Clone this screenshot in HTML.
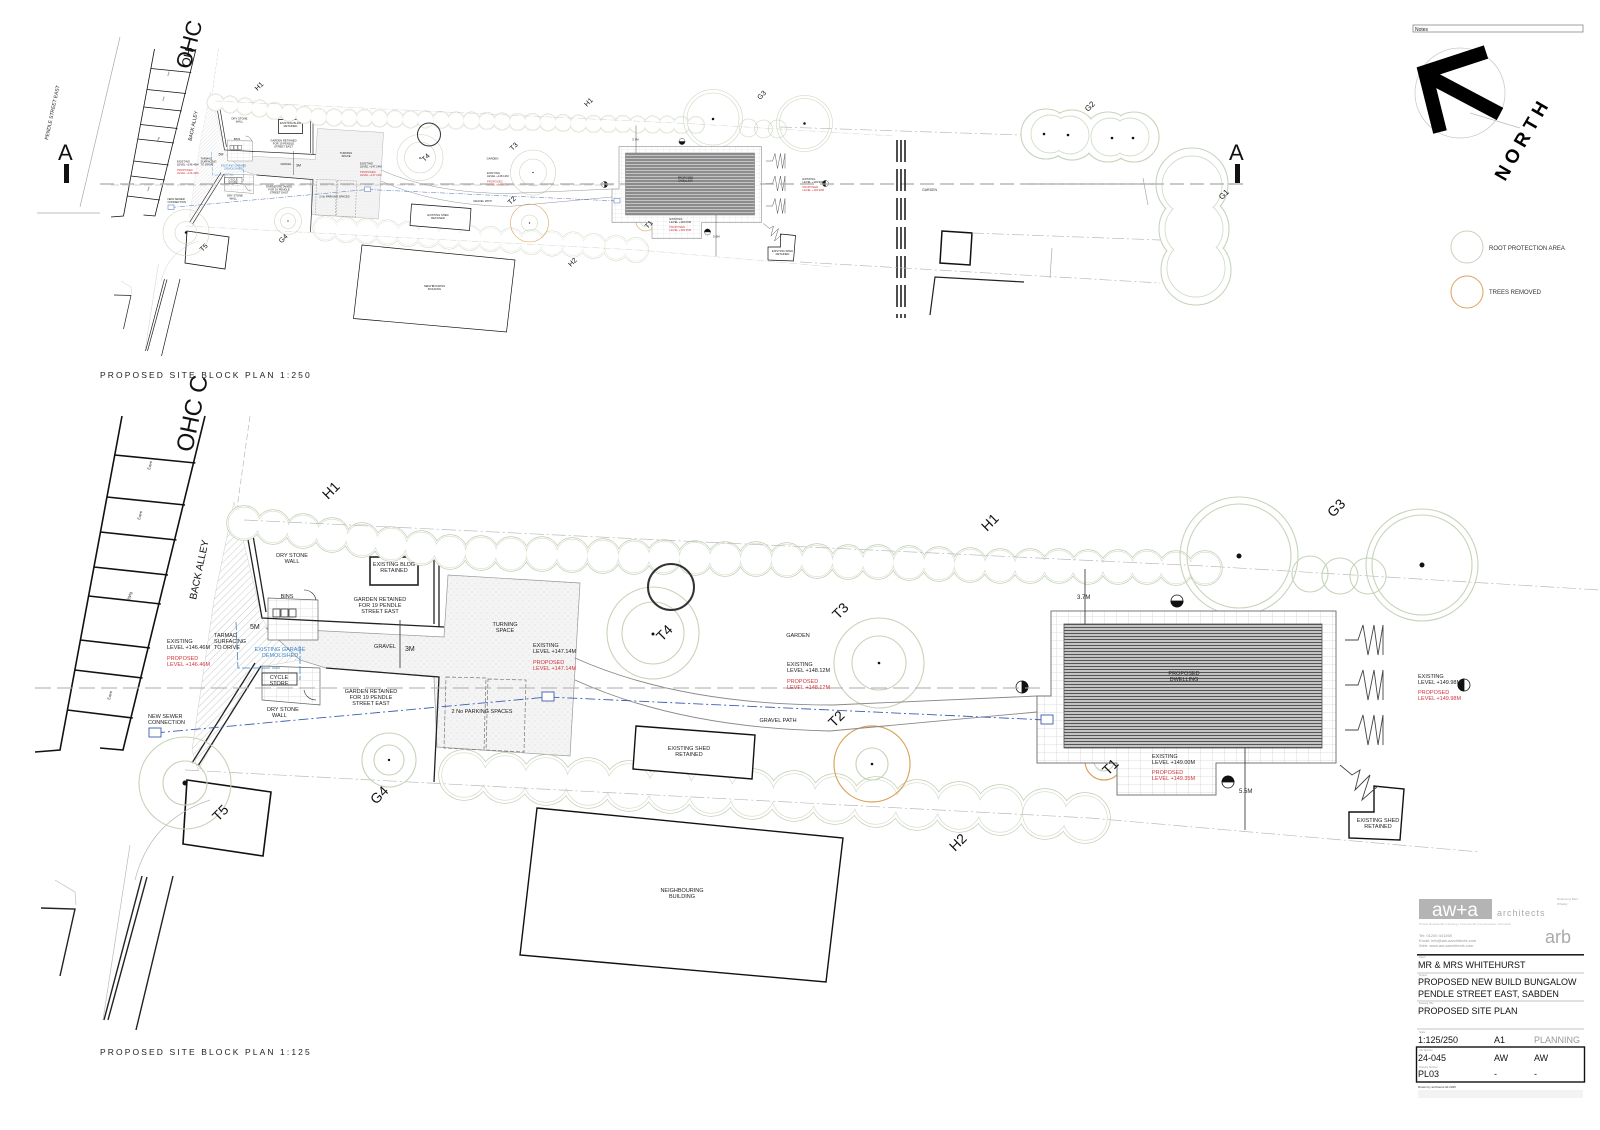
<!DOCTYPE html>
<html><head><meta charset="utf-8"><style>
html,body{margin:0;padding:0;background:#fff;}
svg{display:block;font-family:"Liberation Sans",sans-serif;}
</style></head><body>
<svg width="1600" height="1130" viewBox="0 0 1600 1130" xmlns="http://www.w3.org/2000/svg">
<defs>
<pattern id="roof" width="4" height="3" patternUnits="userSpaceOnUse"><rect width="4" height="3" fill="#c4c4c4"/><rect width="4" height="1" fill="#555"/></pattern>
<pattern id="pave" width="12" height="8" patternUnits="userSpaceOnUse"><rect width="12" height="8" fill="#fff"/><path d="M0 0H12M0 0V8" stroke="#d2d2d2" stroke-width="0.8"/></pattern>
<pattern id="hatch" width="5" height="5" patternUnits="userSpaceOnUse" patternTransform="rotate(45)"><rect width="5" height="5" fill="#fff"/><path d="M0 0V5" stroke="#bcbcbc" stroke-width="0.8"/></pattern>
<pattern id="stip" width="6" height="6" patternUnits="userSpaceOnUse"><rect width="6" height="6" fill="#f4f4f4"/><circle cx="1" cy="1" r="0.5" fill="#cfcfcf"/><circle cx="4" cy="4" r="0.5" fill="#d8d8d8"/></pattern>

<g id="h1a">
<circle cx="244" cy="523" r="17"/><circle cx="273" cy="527" r="17"/><circle cx="303" cy="531" r="17"/><circle cx="332" cy="535" r="17"/><circle cx="362" cy="540" r="17"/><circle cx="391" cy="544" r="17"/><circle cx="421" cy="548" r="17"/>
<circle cx="450" cy="552" r="17"/><circle cx="481" cy="553" r="17"/><circle cx="511" cy="554" r="17"/><circle cx="542" cy="554" r="17"/><circle cx="572" cy="555" r="17"/><circle cx="603" cy="556" r="17"/><circle cx="634" cy="557" r="17"/><circle cx="664" cy="557" r="17"/><circle cx="695" cy="558" r="17"/><circle cx="725" cy="559" r="17"/><circle cx="756" cy="559" r="17"/><circle cx="787" cy="560" r="17"/><circle cx="817" cy="561" r="17"/><circle cx="848" cy="562" r="17"/><circle cx="878" cy="562" r="17"/><circle cx="909" cy="563" r="17"/><circle cx="939" cy="564" r="17"/><circle cx="970" cy="565" r="17"/><circle cx="1000" cy="566" r="17"/><circle cx="1030" cy="566" r="17"/><circle cx="1059" cy="566" r="17"/><circle cx="1088" cy="567" r="17"/><circle cx="1118" cy="567" r="17"/><circle cx="1147" cy="567" r="17"/><circle cx="1176" cy="568" r="17"/><circle cx="1205" cy="568" r="17"/>
</g>
<g id="h1b">
<circle cx="244" cy="523" r="15.5"/><circle cx="273" cy="527" r="15.5"/><circle cx="303" cy="531" r="15.5"/><circle cx="332" cy="535" r="15.5"/><circle cx="362" cy="540" r="15.5"/><circle cx="391" cy="544" r="15.5"/><circle cx="421" cy="548" r="15.5"/>
<circle cx="450" cy="552" r="15.5"/><circle cx="481" cy="553" r="15.5"/><circle cx="511" cy="554" r="15.5"/><circle cx="542" cy="554" r="15.5"/><circle cx="572" cy="555" r="15.5"/><circle cx="603" cy="556" r="15.5"/><circle cx="634" cy="557" r="15.5"/><circle cx="664" cy="557" r="15.5"/><circle cx="695" cy="558" r="15.5"/><circle cx="725" cy="559" r="15.5"/><circle cx="756" cy="559" r="15.5"/><circle cx="787" cy="560" r="15.5"/><circle cx="817" cy="561" r="15.5"/><circle cx="848" cy="562" r="15.5"/><circle cx="878" cy="562" r="15.5"/><circle cx="909" cy="563" r="15.5"/><circle cx="939" cy="564" r="15.5"/><circle cx="970" cy="565" r="15.5"/><circle cx="1000" cy="566" r="15.5"/><circle cx="1030" cy="566" r="15.5"/><circle cx="1059" cy="566" r="15.5"/><circle cx="1088" cy="567" r="15.5"/><circle cx="1118" cy="567" r="15.5"/><circle cx="1147" cy="567" r="15.5"/><circle cx="1176" cy="568" r="15.5"/><circle cx="1205" cy="568" r="15.5"/>
</g>
<g id="h2a">
<circle cx="464" cy="775" r="25"/><circle cx="505" cy="778" r="25"/><circle cx="546" cy="780" r="25"/><circle cx="588" cy="783" r="25"/><circle cx="629" cy="786" r="25"/><circle cx="670" cy="788" r="25"/><circle cx="711" cy="791" r="25"/><circle cx="752" cy="794" r="25"/><circle cx="794" cy="796" r="25"/><circle cx="835" cy="799" r="25"/><circle cx="876" cy="802" r="25"/><circle cx="917" cy="805" r="25"/><circle cx="959" cy="807" r="25"/><circle cx="1000" cy="810" r="25"/><circle cx="1045" cy="814" r="25"/><circle cx="1085" cy="818" r="25"/>
</g>
<g id="h2b">
<circle cx="464" cy="775" r="22"/><circle cx="505" cy="778" r="22"/><circle cx="546" cy="780" r="22"/><circle cx="588" cy="783" r="22"/><circle cx="629" cy="786" r="22"/><circle cx="670" cy="788" r="22"/><circle cx="711" cy="791" r="22"/><circle cx="752" cy="794" r="22"/><circle cx="794" cy="796" r="22"/><circle cx="835" cy="799" r="22"/><circle cx="876" cy="802" r="22"/><circle cx="917" cy="805" r="22"/><circle cx="959" cy="807" r="22"/><circle cx="1000" cy="810" r="22"/><circle cx="1045" cy="814" r="22"/><circle cx="1085" cy="818" r="22"/>
</g>

<g id="plan">
 <g stroke="#111" stroke-width="1.6" fill="none">
  <path d="M122 416L60 750L35 752"/>
  <path d="M205 416L123 750L100 748"/>
  <path d="M114.8 455L195.4 463M107 497L185 505M100.5 532L176.5 540M94 567L168 575M88.6 596L160.8 604M80.4 640L150 648M74.8 670L142.6 678M67.4 710L132.8 718"/>
 </g>
 <g fill="#333" font-size="4">
  <text x="150" y="470" transform="rotate(-75 150 470)">Eave</text><text x="140" y="520" transform="rotate(-75 140 520)">Eave</text>
  <text x="130" y="600" transform="rotate(-75 130 600)">Bldg</text><text x="110" y="700" transform="rotate(-75 110 700)">Eave</text>
 </g>
 <line x1="250" y1="416" x2="200" y2="770" stroke="#bbb" stroke-width="0.7" stroke-dasharray="6 3"/>
 <text x="192" y="453" font-size="24" transform="rotate(-78 192 453)" fill="#111">OHC C</text>
 <text x="196" y="600" font-size="10" transform="rotate(-78 196 600)" fill="#111">BACK ALLEY</text>

 <path d="M234 502L262 618L268 628L300 660L256 668L198 770L192 750L214 600Z" fill="url(#hatch)" stroke="#ccc" stroke-width="0.5"/>
 <path d="M266 628L444 637L448 575L580 583L570 756L437 747L434 677L326 668L300 660Z" fill="url(#stip)" stroke="#999" stroke-width="0.7"/>
 <path d="M268 598L318 600L318 640L268 640Z" fill="url(#pave)" stroke="#666" stroke-width="0.7"/>
 <path d="M262 666L320 668L320 705L262 700Z" fill="url(#pave)" stroke="#666" stroke-width="0.7"/>
 <g fill="none" stroke="#777" stroke-width="0.7" stroke-dasharray="4 2">
  <path d="M446 677L486 678L484 750L444 748Z"/><path d="M488 679L526 680L524 752L486 750Z"/>
 </g>
 <g stroke="#222" stroke-width="1.3" fill="none">
  <path d="M242 506L262 618L444 627"/><path d="M248 506L266 612"/>
  <path d="M368 551L439 552L439 627"/><path d="M434 556L434 624"/>
  <rect x="370" y="557" width="48" height="28" stroke-width="1.6"/>
  <path d="M326 668L439 677L434 782"/>
  <path d="M255 663L192 763M261 666L198 766"/>
  <rect x="273" y="609" width="7" height="8" stroke-width="0.7"/><rect x="281" y="609" width="7" height="8" stroke-width="0.7"/><rect x="289" y="609" width="7" height="8" stroke-width="0.7"/>
  <rect x="262" y="673" width="35" height="12" stroke-width="0.8"/>
  <path d="M304 590A12 12 0 0 1 316 600M304 690A12 12 0 0 0 316 700" stroke-width="0.6"/>
 </g>
 <path d="M236 622L238 668L282 668M300 646L300 680" stroke="#3a86c8" stroke-width="0.8" fill="none" stroke-dasharray="8 2"/>
 <path d="M187 780L271 792L263 856L183 844Z" fill="#fff" stroke="#111" stroke-width="1.6"/>
 <g stroke="#222" stroke-width="1.4" fill="none">
  <path d="M41 908L75 909L60 976"/><path d="M142 876L104 1020M147 877L108 1020M173 876L136 1030"/>
 </g>
 <path d="M130 845L103 1020M55 880L75 892L76 905" stroke="#bbb" stroke-width="0.7" fill="none"/>
 <path d="M135 880Q150 820 210 800" stroke="#bbb" stroke-width="0.7" fill="none"/>

 <!-- hedges -->
 <use href="#h1a" fill="none" stroke="#bfcfb2" stroke-width="1.4"/>
 <use href="#h1a" fill="#fff" stroke="none"/>
 <use href="#h1b" fill="none" stroke="#d3ddc9" stroke-width="1.2"/>
 <use href="#h1b" fill="#fff" stroke="none"/>
 <use href="#h2a" fill="none" stroke="#bfcfb2" stroke-width="1.4"/>
 <use href="#h2a" fill="#fff" stroke="none"/>
 <use href="#h2b" fill="none" stroke="#d3ddc9" stroke-width="1.2"/>
 <use href="#h2b" fill="#fff" stroke="none"/>
 <g fill="none" stroke="#bbb" stroke-width="0.7" stroke-dasharray="14 3 2 3">
  <path d="M244 520L1205 566L1600 590"/><path d="M185 770L560 790L1090 818L1480 852"/>
 </g>
 <g fill="none" stroke="#c6d4ba" stroke-width="1.1">
  <circle cx="1239" cy="556" r="59"/><circle cx="1239" cy="556" r="52"/>
  <circle cx="1422" cy="565" r="56"/><circle cx="1422" cy="565" r="50"/>
  <circle cx="1310" cy="574" r="18"/><circle cx="1340" cy="576" r="18"/><circle cx="1368" cy="576" r="18"/>
  <circle cx="653" cy="633" r="46"/><circle cx="653" cy="633" r="31"/>
  <circle cx="879" cy="663" r="45"/><circle cx="879" cy="663" r="27"/>
  <circle cx="872" cy="764" r="16"/><circle cx="1104" cy="761" r="10"/>
  <circle cx="389" cy="760" r="27"/><circle cx="389" cy="760" r="15"/>
  <circle cx="185" cy="783" r="46"/><circle cx="185" cy="783" r="22"/>
 </g>
 <circle cx="872" cy="764" r="38" fill="none" stroke="#d9a35a" stroke-width="1.2"/>
 <circle cx="1104" cy="761" r="19" fill="none" stroke="#d9a35a" stroke-width="1.2"/>
 <circle cx="671" cy="587" r="23" fill="none" stroke="#333" stroke-width="2"/>
 <g fill="#111"><circle cx="1239" cy="556" r="2.5"/><circle cx="1422" cy="565" r="2.5"/><circle cx="653" cy="634" r="1.5"/><circle cx="879" cy="663" r="1.3"/><circle cx="872" cy="764" r="1.3"/><circle cx="1104" cy="761" r="1.3"/><circle cx="389" cy="760" r="1.2"/><circle cx="185" cy="783" r="2.5"/></g>

 <path d="M636 726L755 735L752 779L633 769Z" fill="#fff" stroke="#111" stroke-width="1.4"/>
 <path d="M537 808L843 838L826 982L520 955Z" fill="#fff" stroke="#111" stroke-width="1.4"/>
 <path d="M1349 812L1374 812L1374 786L1404 789L1400 840L1349 838Z" fill="#fff" stroke="#111" stroke-width="1.4"/>
 <path d="M575 658Q680 705 833 705L1037 696" fill="none" stroke="#888" stroke-width="0.9"/>
 <path d="M575 680Q680 728 830 731L1037 712" fill="none" stroke="#888" stroke-width="0.9"/>
 <path d="M1051 611L1336 611L1336 763L1216 763L1216 795L1117 795L1117 763L1037 763L1037 696L1051 696Z" fill="url(#pave)" stroke="#777" stroke-width="1"/>
 <rect x="1064" y="624" width="258" height="124" fill="url(#roof)" stroke="#555" stroke-width="0.8"/>
 <path d="M155 733L548 697L1047 720" fill="none" stroke="#3b5fb0" stroke-width="0.9" stroke-dasharray="10 3 2 3"/>
 <g fill="#fff" stroke="#3b5fb0" stroke-width="0.9"><rect x="149" y="728" width="12" height="9"/><rect x="542" y="692" width="12" height="9"/><rect x="1041" y="715" width="12" height="9"/></g>
 <g fill="none" stroke="#444" stroke-width="0.9">
  <path d="M1345 640L1358 640L1363 625L1368 655L1374 625L1378 655L1383 625L1383 655"/>
  <path d="M1345 685L1358 685L1363 670L1368 700L1374 670L1378 700L1383 670L1383 700"/>
  <path d="M1345 730L1358 730L1363 715L1368 745L1374 715L1378 745L1383 715L1383 745"/>
  <path d="M1340 765L1352 775L1360 770L1355 790L1370 775L1362 800L1378 786"/>
  <path d="M1085 569V624M1245 748V830M400 620V668"/>
 </g>
 <g stroke="#111" stroke-width="0.8">
  <circle cx="1177" cy="601" r="6" fill="#fff"/><path d="M1171 601A6 6 0 0 0 1183 601Z" fill="#111"/>
  <circle cx="1022" cy="687" r="6" fill="#fff"/><path d="M1022 681A6 6 0 0 1 1022 693Z" fill="#111"/>
  <circle cx="1464" cy="685" r="6" fill="#fff"/><path d="M1464 679A6 6 0 0 0 1464 691Z" fill="#111"/>
  <circle cx="1228" cy="782" r="6" fill="#fff"/><path d="M1222 782A6 6 0 0 1 1234 782Z" fill="#111"/>
 </g>
 <line x1="35" y1="688" x2="1040" y2="688" stroke="#aaa" stroke-width="1" stroke-dasharray="16 6"/>

 <g font-size="14" fill="#111">
  <text x="328" y="500" transform="rotate(-45 328 500)">H1</text>
  <text x="987" y="532" transform="rotate(-45 987 532)">H1</text>
  <text x="1333" y="518" transform="rotate(-45 1333 518)">G3</text>
  <text x="662" y="642" transform="rotate(-45 662 642)">T4</text>
  <text x="838" y="620" transform="rotate(-45 838 620)">T3</text>
  <text x="834" y="728" transform="rotate(-45 834 728)">T2</text>
  <text x="1108" y="776" transform="rotate(-45 1108 776)">T1</text>
  <text x="376" y="805" transform="rotate(-45 376 805)">G4</text>
  <text x="218" y="822" transform="rotate(-45 218 822)">T5</text>
  <text x="955" y="852" transform="rotate(-45 955 852)">H2</text>
 </g>
 <g font-size="5.5" fill="#222" text-anchor="middle">
  <text x="292" y="557">DRY STONE</text><text x="292" y="563">WALL</text>
  <text x="394" y="566">EXISTING BLDG</text><text x="394" y="572">RETAINED</text>
  <text x="287" y="598">BINS</text>
  <text x="380" y="601">GARDEN RETAINED</text><text x="380" y="607">FOR 19 PENDLE</text><text x="380" y="613">STREET EAST</text>
  <text x="385" y="648">GRAVEL</text><text x="505" y="626">TURNING</text><text x="505" y="632">SPACE</text>
  <text x="279" y="679">CYCLE</text><text x="279" y="685">STORE</text>
  <text x="371" y="693">GARDEN RETAINED</text><text x="371" y="699">FOR 19 PENDLE</text><text x="371" y="705">STREET EAST</text>
  <text x="482" y="713">2 No PARKING SPACES</text>
  <text x="798" y="637">GARDEN</text><text x="778" y="722">GRAVEL PATH</text>
  <text x="689" y="750">EXISTING SHED</text><text x="689" y="756">RETAINED</text>
  <text x="682" y="892">NEIGHBOURING</text><text x="682" y="898">BUILDING</text>
  <text x="1184" y="675">PROPOSED</text><text x="1184" y="681">DWELLING</text>
  <text x="1378" y="822">EXISTING SHED</text><text x="1378" y="828">RETAINED</text>
 </g>
 <g font-size="5.5" fill="#222">
  <text x="267" y="711">DRY STONE</text><text x="272" y="717">WALL</text>
  <text x="214" y="637">TARMAC</text><text x="214" y="643">SURFACING</text><text x="214" y="649">TO DRIVE</text>
  <text x="250" y="629" font-size="7">5M</text><text x="405" y="651" font-size="7">3M</text>
  <text x="1077" y="599" font-size="6">3.7M</text><text x="1239" y="793" font-size="6">5.5M</text>
  <text x="148" y="718">NEW SEWER</text><text x="148" y="724">CONNECTION</text>
  <text x="167" y="643">EXISTING</text><text x="167" y="649">LEVEL +146.46M</text>
  <text x="533" y="647">EXISTING</text><text x="533" y="653">LEVEL +147.14M</text>
  <text x="787" y="666">EXISTING</text><text x="787" y="672">LEVEL +148.12M</text>
  <text x="1152" y="758">EXISTING</text><text x="1152" y="764">LEVEL +149.00M</text>
  <text x="1418" y="678">EXISTING</text><text x="1418" y="684">LEVEL +149.98M</text>
 </g>
 <g font-size="5.5" fill="#d0343c">
  <text x="167" y="660">PROPOSED</text><text x="167" y="666">LEVEL +146.46M</text>
  <text x="533" y="664">PROPOSED</text><text x="533" y="670">LEVEL +147.14M</text>
  <text x="787" y="683">PROPOSED</text><text x="787" y="689">LEVEL +148.12M</text>
  <text x="1152" y="774">PROPOSED</text><text x="1152" y="780">LEVEL +149.35M</text>
  <text x="1418" y="694">PROPOSED</text><text x="1418" y="700">LEVEL +149.98M</text>
 </g>
 <g font-size="5.5" fill="#3a86c8" text-anchor="middle"><text x="280" y="651">EXISTING GARAGE</text><text x="280" y="657">DEMOLISHED</text></g>
</g>
</defs>

<rect width="1600" height="1130" fill="#fff"/>
<use href="#plan"/>
<use href="#plan" transform="translate(93.5,-159) scale(0.5)"/>

<rect x="30" y="0" width="200" height="48" fill="#fff"/>
<text x="190" y="70" font-size="22" transform="rotate(-75 190 70)" fill="#111">OHC</text>
<text x="48" y="140" font-size="5" transform="rotate(-78 48 140)" fill="#222">PENDLE STREET EAST</text>
<path d="M120 37L80 207M37 213L100 213" stroke="#aaa" stroke-width="0.7" fill="none"/>
<line x1="100" y1="184" x2="1243" y2="184" stroke="#aaa" stroke-width="1.2" stroke-dasharray="14 6"/>
<text x="58" y="160" font-size="22" fill="#111">A</text><rect x="64" y="164" width="5" height="19" fill="#111"/>
<text x="1229" y="160" font-size="22" fill="#111">A</text><rect x="1235" y="164" width="5" height="19" fill="#111"/>
<g stroke="#222" stroke-width="1.6" stroke-dasharray="22 7"><path d="M897 140V318M901 140V318M905 140V318"/></g>
<path d="M942 231L972 233L970 265L940 263Z" fill="#fff" stroke="#111" stroke-width="1.5"/>
<path d="M930 315L935 277L1024 282" fill="none" stroke="#222" stroke-width="1.2"/>
<g fill="none" stroke="#bbb" stroke-width="0.7" stroke-dasharray="12 3 2 3">
 <path d="M780 127L1022 135"/><path d="M972 233L1160 240"/><path d="M800 262L1160 283"/>
</g>
<path d="M1052 248L1050 278M1143 178L1148 205" stroke="#aaa" stroke-width="0.7"/>
<g fill="none" stroke="#c6d4ba" stroke-width="1.1">
 <circle cx="1046" cy="134" r="25"/><circle cx="1072" cy="135" r="25"/><circle cx="1108" cy="137" r="25"/><circle cx="1134" cy="137" r="25"/>
 <circle cx="1192" cy="184" r="36"/><circle cx="1194" cy="229" r="35"/><circle cx="1196" cy="270" r="35"/>
</g>
<g fill="#fff">
 <circle cx="1046" cy="134" r="24.3"/><circle cx="1072" cy="135" r="24.3"/><circle cx="1108" cy="137" r="24.3"/><circle cx="1134" cy="137" r="24.3"/>
 <circle cx="1192" cy="184" r="35.3"/><circle cx="1194" cy="229" r="34.3"/><circle cx="1196" cy="270" r="34.3"/>
</g>
<g fill="none" stroke="#d3ddc9" stroke-width="0.9">
 <circle cx="1050" cy="134" r="19"/><circle cx="1070" cy="135" r="19"/><circle cx="1110" cy="137" r="19"/><circle cx="1130" cy="137" r="19"/>
 <circle cx="1192" cy="186" r="30"/><circle cx="1194" cy="229" r="29"/><circle cx="1196" cy="268" r="29"/>
</g>
<g fill="#fff">
 <circle cx="1050" cy="134" r="18.3"/><circle cx="1070" cy="135" r="18.3"/><circle cx="1110" cy="137" r="18.3"/><circle cx="1130" cy="137" r="18.3"/>
 <circle cx="1192" cy="186" r="29.3"/><circle cx="1194" cy="229" r="28.3"/><circle cx="1196" cy="268" r="28.3"/>
</g>
<line x1="1030" y1="184" x2="1243" y2="184" stroke="#aaa" stroke-width="1.2" stroke-dasharray="14 6"/>
<g fill="#111"><circle cx="1044" cy="134" r="1.3"/><circle cx="1068" cy="135" r="1.3"/><circle cx="1112" cy="138" r="1.3"/><circle cx="1133" cy="138" r="1.3"/></g>
<text x="1088" y="112" font-size="8" transform="rotate(-45 1088 112)" fill="#111">G2</text>
<text x="1222" y="200" font-size="8" transform="rotate(-45 1222 200)" fill="#111">G1</text>
<text x="922" y="191" font-size="3.5" fill="#333">GARDEN</text>

<text x="100" y="378" font-size="8.5" letter-spacing="2.1" fill="#222">PROPOSED SITE BLOCK PLAN   1:250</text>
<text x="100" y="1055" font-size="8.5" letter-spacing="2.1" fill="#222">PROPOSED SITE BLOCK PLAN   1:125</text>

<rect x="1413" y="25" width="170" height="7" fill="#fff" stroke="#888" stroke-width="0.8"/>
<text x="1415" y="31" font-size="5" fill="#222">Notes</text>
<circle cx="1460" cy="93" r="45" fill="none" stroke="#ccc" stroke-width="0.8"/>
<path d="M1470 113L1520 128" stroke="#bbb" stroke-width="0.8"/>
<path d="M1486 52L1425 72L1440 132" fill="none" stroke="#000" stroke-width="14" stroke-linejoin="miter"/>
<path d="M1432 78L1500 114" stroke="#000" stroke-width="14"/>
<text x="1505" y="182" font-size="19" font-weight="bold" letter-spacing="5" transform="rotate(-60 1505 182)" fill="#000">NORTH</text>
<circle cx="1467" cy="247" r="16" fill="none" stroke="#c6d4ba" stroke-width="1"/>
<text x="1489" y="250" font-size="6" fill="#333">ROOT PROTECTION AREA</text>
<circle cx="1467" cy="292" r="16" fill="none" stroke="#d9a35a" stroke-width="1"/>
<text x="1489" y="294" font-size="6" fill="#333">TREES REMOVED</text>

<rect x="1419" y="899" width="73" height="20" fill="#b4b4b4"/>
<text x="1455" y="916" font-size="19" fill="#fff" text-anchor="middle">aw+a</text>
<text x="1497" y="916" font-size="9" fill="#aaa" letter-spacing="1">architects</text>
<text x="1419" y="925" font-size="3" fill="#bbb">Private Residential | Housing | Commercial | Conservation | Domestic</text>
<text x="1557" y="900" font-size="3" fill="#aaa">Robinsons Barn</text>
<text x="1557" y="905" font-size="3" fill="#aaa">Whalley</text>
<text x="1419" y="937" font-size="4" fill="#999">Tel: 01200 441269</text>
<text x="1419" y="942" font-size="4" fill="#999">Email: info@aw-aarchitects.com</text>
<text x="1419" y="947" font-size="4" fill="#999">Web: www.aw-aarchitects.com</text>
<text x="1545" y="943" font-size="18" fill="#aaa">arb</text>
<rect x="1417" y="954" width="167" height="1.6" fill="#222"/>
<g stroke="#888" stroke-width="0.6"><path d="M1417 973H1584M1417 1001H1584M1417 1029H1584"/></g>
<g font-size="9" fill="#111">
 <text x="1418" y="968">MR &amp; MRS WHITEHURST</text>
 <text x="1418" y="985">PROPOSED NEW BUILD BUNGALOW</text>
 <text x="1418" y="997">PENDLE STREET EAST, SABDEN</text>
 <text x="1418" y="1014">PROPOSED SITE PLAN</text>
 <text x="1418" y="1043">1:125/250</text><text x="1494" y="1043">A1</text>
 <text x="1534" y="1043" fill="#999">PLANNING</text>
 <text x="1418" y="1061">24-045</text><text x="1494" y="1061">AW</text><text x="1534" y="1061">AW</text>
 <text x="1418" y="1077">PL03</text><text x="1494" y="1077">-</text><text x="1534" y="1077">-</text>
</g>
<rect x="1416.5" y="1047" width="168" height="35" fill="none" stroke="#111" stroke-width="1.4"/>
<g font-size="2.5" fill="#999"><text x="1419" y="958">Client</text><text x="1419" y="976">Project</text><text x="1419" y="1004">Drawing Title</text><text x="1419" y="1033">Scale</text><text x="1419" y="1051">Job Number</text><text x="1419" y="1068">Drawing Number</text></g>
<text x="1418" y="1088" font-size="3" fill="#333">Drawn by architects ltd 2025</text>
<rect x="1418" y="1090" width="165" height="8" fill="#f3f3f3"/>
</svg>
</body></html>
